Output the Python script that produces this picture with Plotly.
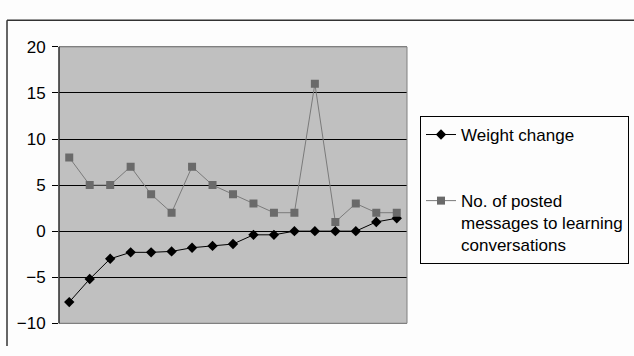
import plotly.graph_objects as go

# Participants ordered by weight change
participants = list(range(1, 18))
weight_change = [-7.7, -5.2, -3.0, -2.3, -2.3, -2.2, -1.8, -1.6, -1.4, -0.4, -0.4, 0.0, 0.0, 0.0, 0.0, 1.0, 1.4]
posted_messages = [8, 5, 5, 7, 4, 2, 7, 5, 4, 3, 2, 2, 16, 1, 3, 2, 2]
y_ticks = [-10, -5, 0, 5, 10, 15, 20]

W, H = 634, 356
FONT = "Liberation Sans, Arial, sans-serif"

fig = go.Figure()

fig.add_trace(go.Scatter(
    x=participants, y=weight_change, mode="lines+markers",
    name="Weight change", legendgroup="a",
    line=dict(color="#000000", width=1),
    marker=dict(symbol="diamond", size=8, color="#000000"),
))
fig.add_trace(go.Scatter(
    x=participants, y=posted_messages, mode="lines+markers",
    name="No. of posted<br>messages to learning<br>conversations", legendgroup="b",
    line=dict(color="#7a7a7a", width=1),
    marker=dict(symbol="square", size=8, color="#6a6a6a"),
))

px = lambda v: v / W
py = lambda v: (H - v) / H

fig.update_layout(
    width=W, height=H,
    margin=dict(l=0, r=0, t=0, b=0),
    paper_bgcolor="#fdfdfd",
    plot_bgcolor="#c0c0c0",
    font=dict(family=FONT, size=17, color="#000000"),
    xaxis=dict(
        domain=[px(59), px(407)], range=[0.5, 17.5],
        showticklabels=False, ticks="", showgrid=False, zeroline=False,
        showline=True, linecolor="#808080", linewidth=1, mirror=True,
    ),
    yaxis=dict(
        domain=[py(332), py(40)], range=[-10, 20],
        tickvals=y_ticks, ticks="outside", ticklen=6, tickcolor="#000000",
        ticklabelstandoff=3,
        showgrid=True, gridcolor="#000000", gridwidth=1, zeroline=False,
        showline=False,
    ),
    showlegend=True,
    legend=dict(
        x=px(420), y=py(113), xanchor="left", yanchor="top",
        bordercolor="#000000", borderwidth=1, bgcolor="#fdfdfd",
        traceorder="grouped", tracegroupgap=41, valign="top",
        font=dict(family=FONT, size=17),
    ),
    shapes=[
        # plot-area frame: gray outline with black left axis
        dict(type="rect", xref="paper", yref="paper",
             x0=px(59), x1=px(407), y0=py(332), y1=py(40),
             line=dict(color="#808080", width=1)),
        dict(type="line", xref="paper", yref="paper",
             x0=px(59), x1=px(59), y0=py(332), y1=py(40),
             line=dict(color="#000000", width=1)),
        # chart border
        dict(type="line", xref="paper", yref="paper",
             x0=px(7), x1=px(7), y0=0, y1=py(12),
             line=dict(color="#333333", width=1.5)),
        dict(type="line", xref="paper", yref="paper",
             x0=px(7), x1=1, y0=py(12), y1=py(12),
             line=dict(color="#333333", width=1.5)),
    ],
)

fig.write_html("out.html")
